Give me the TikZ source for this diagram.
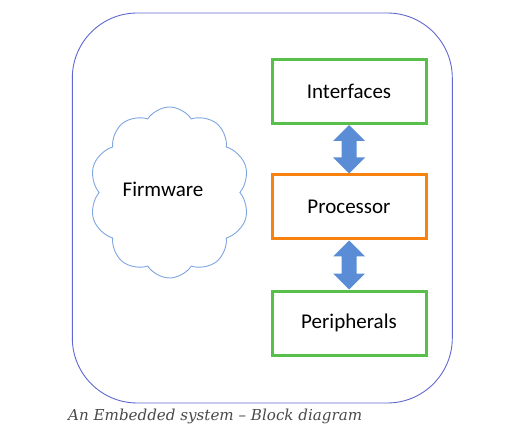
\documentclass[tikz,border=0pt]{standalone}
\usepackage{fontspec}
\setmainfont{Carlito}
\newfontfamily\capfont{DejaVu Serif}
\usetikzlibrary{shapes.symbols,calc}
\definecolor{frameblue}{HTML}{5F68D0}
\definecolor{cloudblue}{HTML}{7EA6E0}
\definecolor{boxgreen}{HTML}{58C04A}
\definecolor{boxorange}{HTML}{F7820F}
\definecolor{arrblue}{HTML}{5B8DD6}
\definecolor{capgray}{HTML}{4A4A4A}
\newcommand\dblarr[2]{%
  \fill[arrblue] (#1) -- ($(#1)!16pt!(#2)+(16,0)$) -- ($(#1)!16pt!(#2)+(7.5,0)$)
    -- ($(#2)!16pt!(#1)+(7.5,0)$) -- ($(#2)!16pt!(#1)+(16,0)$) -- (#2)
    -- ($(#2)!16pt!(#1)+(-16,0)$) -- ($(#2)!16pt!(#1)+(-7.5,0)$)
    -- ($(#1)!16pt!(#2)+(-7.5,0)$) -- ($(#1)!16pt!(#2)+(-16,0)$) -- cycle;}
\begin{document}
\begin{tikzpicture}[x=1pt,y=-1pt,
  blk/.style={draw=#1,line width=3pt,minimum width=154pt,minimum height=64pt,
    inner sep=0pt,font=\fontsize{21}{25}\selectfont},
  lbl/.style={font=\fontsize{21}{25}\selectfont,inner sep=0pt}]
\useasboundingbox (0,0) rectangle (519,446);
\node[draw=frameblue,line width=0.9pt,rounded corners=65pt,minimum width=380pt,
  minimum height=390pt,inner sep=0pt] (frame) at (262.3,208) {};
\node[cloud,draw=cloudblue,line width=0.9pt,cloud puffs=10,cloud puff arc=115,aspect=0.94,
  minimum width=160pt,minimum height=171pt,inner sep=0pt] (cloud) at (169.5,192.5) {};
\node[lbl] (fw) at (163,189) {Firmware};
\node[blk=boxgreen] (int) at (349,91.5) {Interfaces};
\node[blk=boxorange] (proc) at (349,207) {Processor};
\node[blk=boxgreen] (per) at (349,323) {Peripherals};
\dblarr{int.south}{proc.north}
\dblarr{per.north}{proc.south}
\node[anchor=base west,inner sep=0pt,text=capgray] (cap) at (68,420)
  {\resizebox{294pt}{!}{\capfont\itshape An Embedded system – Block diagram}};
\end{tikzpicture}
\end{document}
